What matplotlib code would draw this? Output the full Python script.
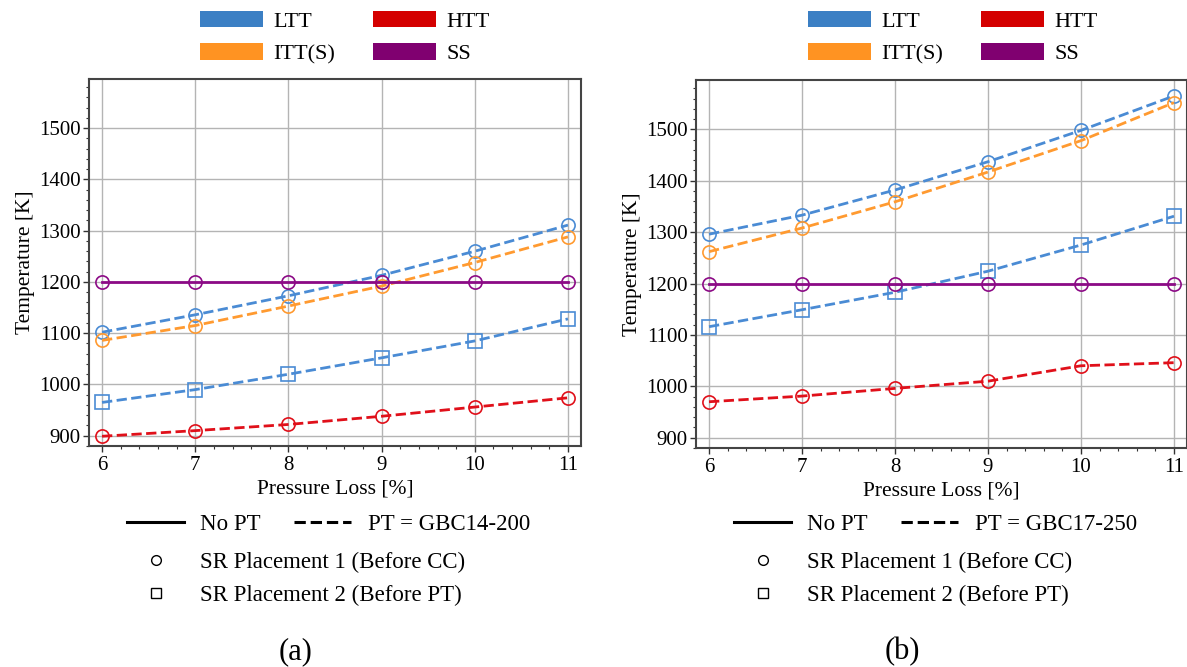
import matplotlib
matplotlib.use("Agg")
import matplotlib.pyplot as plt
from matplotlib.patches import Patch
from matplotlib.lines import Line2D
from matplotlib.ticker import MultipleLocator

plt.rcParams['font.family'] = ['Liberation Serif', 'DejaVu Serif']

# Pressure loss [%]
pressure_loss = [6, 7, 8, 9, 10, 11]

# (a) PT = GBC14-200
a_ltt_p1 = [1102, 1136, 1173, 1213, 1260, 1311]
a_itt_p1 = [1086, 1115, 1153, 1192, 1238, 1288]
a_ltt_p2 = [965, 990, 1020, 1052, 1085, 1128]
a_htt_p1 = [899, 910, 922, 938, 956, 974]
a_ss = [1200, 1200, 1200, 1200, 1200, 1200]

# (b) PT = GBC17-250
b_ltt_p1 = [1296, 1333, 1382, 1437, 1498, 1565]
b_itt_p1 = [1262, 1308, 1359, 1417, 1478, 1552]
b_ltt_p2 = [1116, 1149, 1183, 1224, 1275, 1331]
b_htt_p1 = [970, 981, 996, 1010, 1040, 1046]
b_ss = [1200, 1200, 1200, 1200, 1200, 1200]

pt_names = ["GBC14-200", "GBC17-250"]
panel_tags = ["(a)", "(b)"]
x_ticks = [6, 7, 8, 9, 10, 11]
y_ticks = [900, 1000, 1100, 1200, 1300, 1400, 1500]

C_LTT = "#3b7fc4"
C_HTT = "#d40000"
C_ITT = "#ff9322"
C_SS = "#800070"
L_LTT = "#4a8bd4"
L_HTT = "#e0101a"
L_ITT = "#ff9a30"
L_SS = "#8c0a86"

fig = plt.figure(figsize=(11.87, 6.67), dpi=100)
W, H = 1187, 667
axA = fig.add_axes([89 / W, 1 - 446 / H, (581 - 89) / W, (446 - 79) / H])
axB = fig.add_axes([696 / W, 1 - 448 / H, (1187 - 696) / W, (448 - 80) / H])

ms = 9.5
mew = 1.2
lw = 2.0


def draw(ax, ltt1, itt1, ltt2, htt1, ss):
    ax.plot(pressure_loss, ltt2, '--', color=L_LTT, lw=lw, marker='s', ms=ms,
            mfc='none', mec=L_LTT, mew=mew)
    ax.plot(pressure_loss, ltt1, '--', color=L_LTT, lw=lw, marker='o', ms=ms,
            mfc='none', mec=L_LTT, mew=mew)
    ax.plot(pressure_loss, itt1, '--', color=L_ITT, lw=lw, marker='o', ms=ms,
            mfc='none', mec=L_ITT, mew=mew)
    ax.plot(pressure_loss, htt1, '--', color=L_HTT, lw=lw, marker='o', ms=ms,
            mfc='none', mec=L_HTT, mew=mew)
    ax.plot(pressure_loss, ss, '-', color=L_SS, lw=lw, marker='o', ms=ms,
            mfc='none', mec=L_SS, mew=mew)
    ax.set_xlim(5.86, 11.14)
    ax.set_ylim(880, 1596)
    ax.set_xticks(x_ticks)
    ax.set_yticks(y_ticks)
    ax.xaxis.set_minor_locator(MultipleLocator(0.2))
    ax.yaxis.set_minor_locator(MultipleLocator(20))
    ax.grid(True, which='major', color='#b4b4b4', lw=1.0)
    ax.set_axisbelow(True)
    ax.tick_params(which='major', length=4, width=1.0, labelsize=15,
                   color='#333333')
    ax.tick_params(axis='y', which='major', pad=2)
    ax.tick_params(which='minor', length=2.5, width=0.8, color='#333333')
    ax.set_xlabel("Pressure Loss [%]", fontsize=15.5, labelpad=3)
    ax.set_ylabel("Temperature [K]", fontsize=15.5, labelpad=3)
    for s in ax.spines.values():
        s.set_color('#444444')
        s.set_linewidth(1.5)


draw(axA, a_ltt_p1, a_itt_p1, a_ltt_p2, a_htt_p1, a_ss)
draw(axB, b_ltt_p1, b_itt_p1, b_ltt_p2, b_htt_p1, b_ss)

colour_handles = [Patch(facecolor=C_LTT, edgecolor='none', label='LTT'),
                  Patch(facecolor=C_ITT, edgecolor='none', label='ITT(S)'),
                  Patch(facecolor=C_HTT, edgecolor='none', label='HTT'),
                  Patch(facecolor=C_SS, edgecolor='none', label='SS')]

for ax, pt, tag, left_px in zip([axA, axB], pt_names, panel_tags, [200, 808]):
    # series colours
    fig.legend(handles=colour_handles, ncol=2, loc='upper left',
               bbox_to_anchor=(left_px / W, 1 - 11 / H), frameon=False,
               fontsize=16, handlelength=2.85, handleheight=0.75,
               handletextpad=0.45, columnspacing=1.7, labelspacing=0.52,
               borderpad=0, borderaxespad=0)
    lx = ax.get_position().x0 + 38 / W
    # line styles
    style_handles = [Line2D([], [], color='black', lw=2.2, ls='-', label='No PT'),
                     Line2D([], [], color='black', lw=2.2, ls='--',
                            label=f'PT = {pt}')]
    fig.legend(handles=style_handles, ncol=2, loc='upper left',
               bbox_to_anchor=(lx, 1 - 514 / H), frameon=False, fontsize=16.5,
               handlelength=2.5, handletextpad=0.7, columnspacing=1.45,
               borderpad=0, borderaxespad=0)
    # marker shapes
    marker_handles = [Line2D([], [], color='black', ls='none', marker='o', ms=7,
                             mfc='none', mew=1.0,
                             label='SR Placement 1 (Before CC)'),
                      Line2D([], [], color='black', ls='none', marker='s', ms=7,
                             mfc='none', mew=1.0,
                             label='SR Placement 2 (Before PT)')]
    fig.legend(handles=marker_handles, loc='upper left',
               bbox_to_anchor=(lx, 1 - 552 / H), frameon=False, fontsize=16.5,
               handlelength=2.5, handletextpad=0.7, labelspacing=0.5,
               borderpad=0, borderaxespad=0)
    pos = ax.get_position()
    fig.text(pos.x0 + 0.42 * pos.width, 1 - 652 / H, tag, fontsize=22,
             ha='center', va='center')

fig.savefig("out.png", dpi=100)
